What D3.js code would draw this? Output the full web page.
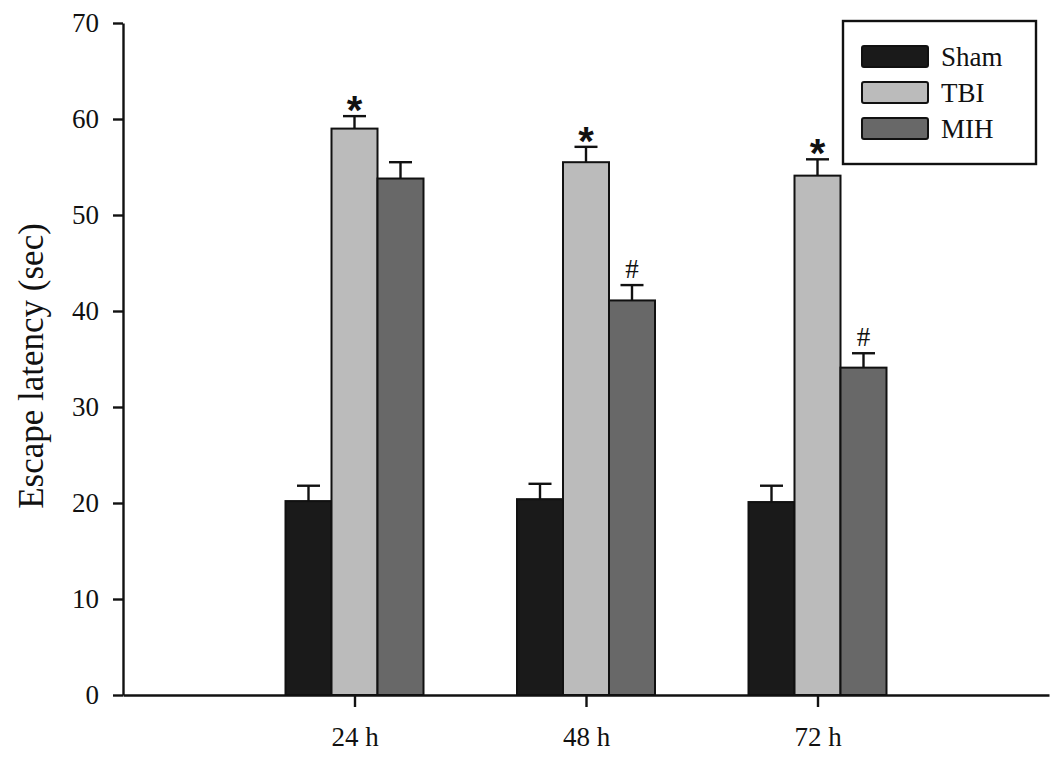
<!DOCTYPE html>
<meta charset="utf-8">
<style>
body { margin: 0; background: #fff; }
svg text { font-family: "Liberation Serif", "Times New Roman", serif; fill: #111; }
</style>
<body>
<script src="https://d3js.org/d3.v7.min.js"></script>
<script>

// data
var timepoints = ["24 h", "48 h", "72 h"];
var groups = ["Sham", "TBI", "MIH"];
var shamMean = [20.2, 20.4, 20.1];
var shamSem  = [1.6, 1.6, 1.7];
var tbiMean  = [59.0, 55.5, 54.1];
var tbiSem   = [1.3, 1.6, 1.7];
var mihMean  = [53.8, 41.1, 34.1];
var mihSem   = [1.7, 1.6, 1.5];
var tbiMarks = ["*", "*", "*"];
var mihMarks = ["", "#", "#"];
var yTicks = [0, 10, 20, 30, 40, 50, 60, 70];
var colors = ["#1a1a1a", "#bbbbbb", "#686868"];

var W = 1063, H = 759;
var plotL = 123, plotR = 1049, plotT = 23, plotB = 695;

var svg = d3.select("body").append("svg")
    .attr("width", W)
    .attr("height", H);

//scales
var y = d3.scaleLinear().domain([0, 70]).range([plotB, plotT]);
var x = d3.scalePoint()
    .domain(["start"].concat(timepoints, ["end"]))
    .range([plotL, plotR]);
var xInner = d3.scaleBand().domain(groups).range([-69, 69]);

var series = [
  {name: "Sham", mean: shamMean, sem: shamSem, marks: null},
  {name: "TBI", mean: tbiMean, sem: tbiSem, marks: tbiMarks},
  {name: "MIH", mean: mihMean, sem: mihSem, marks: mihMarks}
];

var rows = [];
series.forEach(function(s, si) {
  timepoints.forEach(function(t, ti) {
    rows.push({t: t, g: s.name, si: si, v: s.mean[ti], e: s.sem[ti],
               mark: s.marks ? s.marks[ti] : ""});
  });
});

// error bars
var eb = svg.append("g").selectAll("g").data(rows).enter().append("g")
    .attr("transform", d => `translate(${x(d.t) + xInner(d.g) + xInner.bandwidth() / 2},0)`);
eb.append("line")
    .attr("y1", d => y(d.v)).attr("y2", d => y(d.v + d.e))
    .attr("stroke", "#111").attr("stroke-width", 2.4);
eb.append("line")
    .attr("x1", -11.5).attr("x2", 11.5)
    .attr("y1", d => y(d.v + d.e)).attr("y2", d => y(d.v + d.e))
    .attr("stroke", "#111").attr("stroke-width", 2.4);

// bars
svg.append("g").selectAll("rect").data(rows).enter().append("rect")
    .attr("x", d => x(d.t) + xInner(d.g))
    .attr("y", d => y(d.v))
    .attr("width", xInner.bandwidth())
    .attr("height", d => y(0) - y(d.v))
    .attr("fill", d => colors[d.si])
    .attr("stroke", "#111")
    .attr("stroke-width", 2);

// significance marks
svg.append("g").selectAll("text").data(rows.filter(d => d.mark)).enter().append("text")
    .attr("x", d => x(d.t) + xInner(d.g) + xInner.bandwidth() / 2)
    .attr("y", d => d.mark == "*" ? y(d.v + d.e) + 8 : y(d.v + d.e) - 7)
    .attr("text-anchor", "middle")
    .style("font-family", d => d.mark == "*" ? "Liberation Sans, Arial, sans-serif" : null)
    .style("font-weight", d => d.mark == "*" ? "bold" : null)
    .style("font-size", d => d.mark == "*" ? "40px" : "27px")
    .text(d => d.mark);

// axes
var yAxis = svg.append("g")
    .attr("transform", `translate(${plotL},0)`)
    .call(d3.axisLeft(y).tickValues(yTicks).tickSize(10).tickSizeOuter(0).tickPadding(14));
var xAxis = svg.append("g")
    .attr("transform", `translate(0,${plotB})`)
    .call(d3.axisBottom(x).tickValues(timepoints).tickSize(12).tickSizeOuter(0).tickPadding(20));

[yAxis, xAxis].forEach(function(a) {
  a.attr("font-size", null).attr("font-family", null);
  a.selectAll("path, line").attr("stroke", "#111").attr("stroke-width", 2.4);
  a.selectAll("text").attr("fill", "#111")
    .style("font-family", "Liberation Serif, Times New Roman, serif")
    .style("font-size", "27px");
});

// y title
svg.append("text")
    .attr("transform", `translate(43,366) rotate(-90)`)
    .attr("text-anchor", "middle")
    .style("font-size", "35px")
    .text("Escape latency (sec)");

// legend
var lg = svg.append("g");
lg.append("rect")
    .attr("x", 843).attr("y", 21).attr("width", 193).attr("height", 143)
    .attr("fill", "#fff").attr("stroke", "#111").attr("stroke-width", 2.4);
var li = lg.selectAll("g.item").data(groups).enter().append("g")
    .attr("class", "item")
    .attr("transform", (d, i) => `translate(862,${46 + i * 36})`);
li.append("rect")
    .attr("width", 66).attr("height", 21).attr("rx", 2)
    .attr("fill", (d, i) => colors[i])
    .attr("stroke", "#111").attr("stroke-width", 2);
li.append("text")
    .attr("x", 79).attr("y", 20)
    .style("font-size", "27px")
    .text(d => d);

</script>
</body>
</html>
